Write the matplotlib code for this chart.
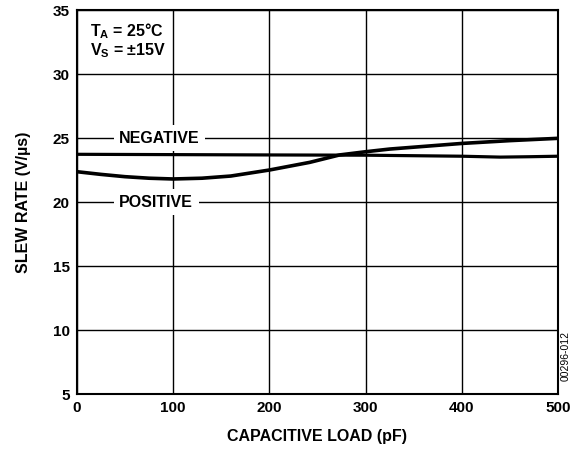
import matplotlib
matplotlib.use("Agg")
import matplotlib.pyplot as plt

plt.rcParams['font.family'] = ['Liberation Sans', 'DejaVu Sans']
plt.rcParams['mathtext.fontset'] = 'custom'
plt.rcParams['mathtext.bf'] = 'Liberation Sans:bold'
plt.rcParams['mathtext.rm'] = 'Liberation Sans:bold'

# data
load_pos = [0, 25, 50, 75, 100, 130, 160, 200, 242, 273, 300, 325, 400, 450, 500]
slew_pos = [22.39, 22.18, 22.0, 21.88, 21.82, 21.88, 22.05, 22.52, 23.12, 23.7, 23.95, 24.16, 24.6, 24.82, 25.0]

load_neg = [0, 200, 300, 400, 440, 470, 500]
slew_neg = [23.75, 23.7, 23.68, 23.6, 23.53, 23.56, 23.6]

xticks = [0, 100, 200, 300, 400, 500]
yticks = [5, 10, 15, 20, 25, 30, 35]

fig = plt.figure(figsize=(5.73, 4.55), dpi=100)
ax = fig.add_axes([0.134, 0.134, 0.84, 0.843])

ax.plot(load_neg, slew_neg, color='black', lw=2.3, solid_capstyle='butt')
ax.plot(load_pos, slew_pos, color='black', lw=2.6, solid_capstyle='butt')

ax.set_xlim(0, 500)
ax.set_ylim(5, 35)
ax.set_xticks(xticks)
ax.set_yticks(yticks)
ax.grid(True, color='black', lw=1.0)
ax.tick_params(length=0, labelsize=11, pad=5)
for lab in ax.get_xticklabels() + ax.get_yticklabels():
    lab.set_fontweight('bold')
for s in ax.spines.values():
    s.set_linewidth(1.5)

ax.set_xlabel('CAPACITIVE LOAD (pF)', fontsize=11.5, fontweight='bold', labelpad=10)
ax.set_ylabel('SLEW RATE (V/µs)', fontsize=11.5, fontweight='bold', labelpad=16)

box = dict(facecolor='white', edgecolor='none', pad=4)
ax.text(44, 25, 'NEGATIVE', fontsize=11.5, fontweight='bold', va='center', ha='left', bbox=box)
ax.text(44, 20, 'POSITIVE', fontsize=11.5, fontweight='bold', va='center', ha='left', bbox=box)

ax.text(14, 33.4, r'$\mathbf{T_A}$ = 25°C', fontsize=11.5, fontweight='bold', va='center', ha='left')
ax.text(14, 31.85, r'$\mathbf{V_S}$ = ±15V', fontsize=11.5, fontweight='bold', va='center', ha='left')

fig.text(0.988, 0.217, '00296-012', fontsize=7.5, rotation=90, ha='center', va='center')

fig.savefig('out.png', dpi=100)
